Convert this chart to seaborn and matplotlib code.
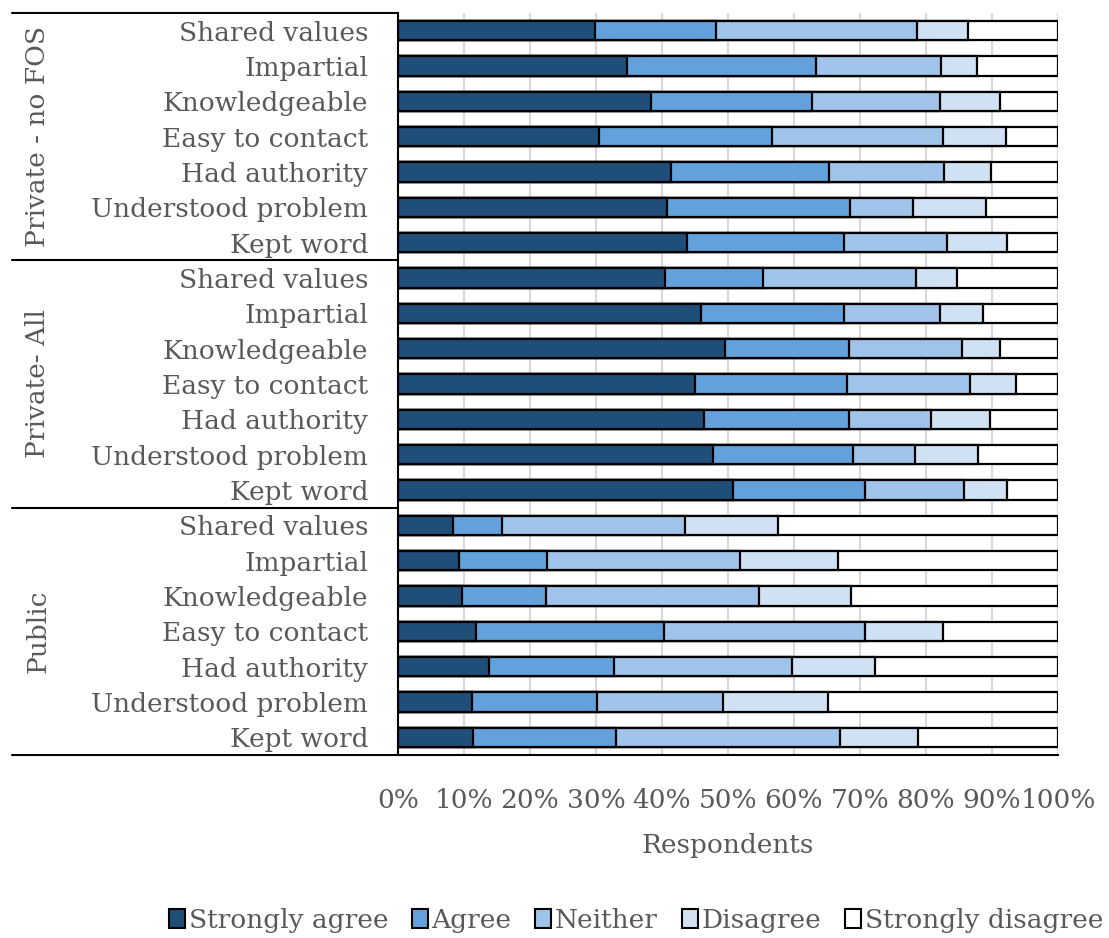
import numpy as np
import pandas as pd
import matplotlib
matplotlib.use("Agg")
import matplotlib.pyplot as plt
import matplotlib.transforms as mtransforms
from matplotlib.ticker import PercentFormatter, MultipleLocator
from matplotlib.patches import Patch
import seaborn as sns

# ---- data -------------------------------------------------------------
groups = ["Private - no FOS", "Private- All", "Public"]
items = ["Shared values", "Impartial", "Knowledgeable", "Easy to contact",
         "Had authority", "Understood problem", "Kept word"]
levels = ["Strongly agree", "Agree", "Neither", "Disagree", "Strongly disagree"]

strongly_agree = [29.9, 34.7, 38.4, 30.5, 41.4, 40.8, 43.8,
                  40.4, 45.9, 49.6, 45.0, 46.4, 47.7, 50.7,
                  8.4, 9.3, 9.7, 11.8, 13.8, 11.2, 11.3]
agree = [18.3, 28.6, 24.4, 26.2, 23.9, 27.7, 23.8,
         14.9, 21.6, 18.7, 23.0, 21.9, 21.3, 20.1,
         7.4, 13.3, 12.7, 28.5, 19.0, 18.9, 21.7]
neither = [30.5, 18.9, 19.3, 25.9, 17.5, 9.5, 15.6,
           23.2, 14.6, 17.2, 18.6, 12.5, 9.4, 14.9,
           27.7, 29.2, 32.3, 30.5, 26.9, 19.1, 33.9]
disagree = [7.6, 5.6, 9.1, 9.5, 7.1, 11.1, 9.1,
            6.2, 6.5, 5.7, 7.0, 8.9, 9.5, 6.5,
            14.1, 14.8, 13.9, 11.8, 12.6, 16.0, 11.9]
strongly_disagree = [13.7, 12.2, 8.8, 7.9, 10.1, 10.9, 7.7,
                     15.3, 11.4, 8.8, 6.4, 10.3, 12.1, 7.8,
                     42.4, 33.4, 31.4, 17.4, 27.7, 34.8, 21.2]

colors = ["#1F4E79", "#63A1DC", "#9FC3E9", "#D0E1F3", "#FFFFFF"]

# ---- frame ------------------------------------------------------------
rows = [f"{g}|{it}" for g in groups for it in items]
df = pd.DataFrame({
    "row": rows,
    "Strongly agree": strongly_agree,
    "Agree": agree,
    "Neither": neither,
    "Disagree": disagree,
    "Strongly disagree": strongly_disagree,
})
cum = df[levels].cumsum(axis=1)
for lv in levels:
    df["cum_" + lv] = cum[lv]

sns.set_theme(style="white")
plt.rcParams["font.family"] = ["DejaVu Serif"]
text_color = "#595959"
fs = 19

fig = plt.figure(figsize=(11.09, 9.38), dpi=100)
W, H = 1109, 938
ax = fig.add_axes([398 / W, 1 - 755 / H, 660 / W, 742 / H])

# stacked bars: draw cumulative totals from the longest down
for lv, col in reversed(list(zip(levels, colors))):
    sns.barplot(data=df, y="row", x="cum_" + lv, order=rows, orient="h",
                color=col, saturation=1, edgecolor="black", linewidth=1.6,
                width=0.55, errorbar=None, ax=ax)

ax.set_xlim(0, 100)
ax.set_ylim(len(rows) - 0.5, -0.5)
ax.xaxis.set_major_locator(MultipleLocator(10))
ax.xaxis.set_major_formatter(PercentFormatter(decimals=0))
ax.grid(axis="x", color="#D9D9D9", linewidth=1.5)
ax.grid(axis="y", visible=False)
ax.set_axisbelow(True)

ax.set_yticks(range(len(rows)))
ax.set_yticklabels([r.split("|")[1] for r in rows])
ax.tick_params(axis="y", length=0, pad=21.5, labelsize=fs, labelcolor=text_color)
ax.tick_params(axis="x", length=0, pad=24, labelsize=fs, labelcolor=text_color)
ax.set_ylabel("")
ax.set_xlabel("Respondents", fontsize=fs, color=text_color, labelpad=14)

for s in ["top", "right"]:
    ax.spines[s].set_visible(False)
for s in ["left", "bottom"]:
    ax.spines[s].set_color("black")
    ax.spines[s].set_linewidth(1.5)

# group separators and group labels on the left
trans = mtransforms.blended_transform_factory(ax.transAxes, ax.transData)
x_left = (12 - 398) / 660
n_items = len(items)
for k in range(len(groups) + 1):
    yb = k * n_items - 0.5
    ax.plot([x_left, 0], [yb, yb], color="black", linewidth=1.5,
            transform=trans, clip_on=False)
for k, g in enumerate(groups):
    yc = k * n_items + (n_items - 1) / 2
    ax.text((38 - 398) / 660, yc, g, rotation=90, ha="center", va="center",
            fontsize=fs, color=text_color, transform=trans)

# legend
handles = [Patch(facecolor=c, edgecolor="black", linewidth=1.5, label=l)
           for l, c in zip(levels, colors)]
fig.legend(handles=handles, loc="center", bbox_to_anchor=(636 / W, 1 - 920 / H),
           ncol=5, frameon=False, fontsize=fs, handlelength=0.6,
           handleheight=0.7, handletextpad=0.15, columnspacing=0.9,
           labelcolor=text_color)

fig.savefig("out.png", dpi=100)
